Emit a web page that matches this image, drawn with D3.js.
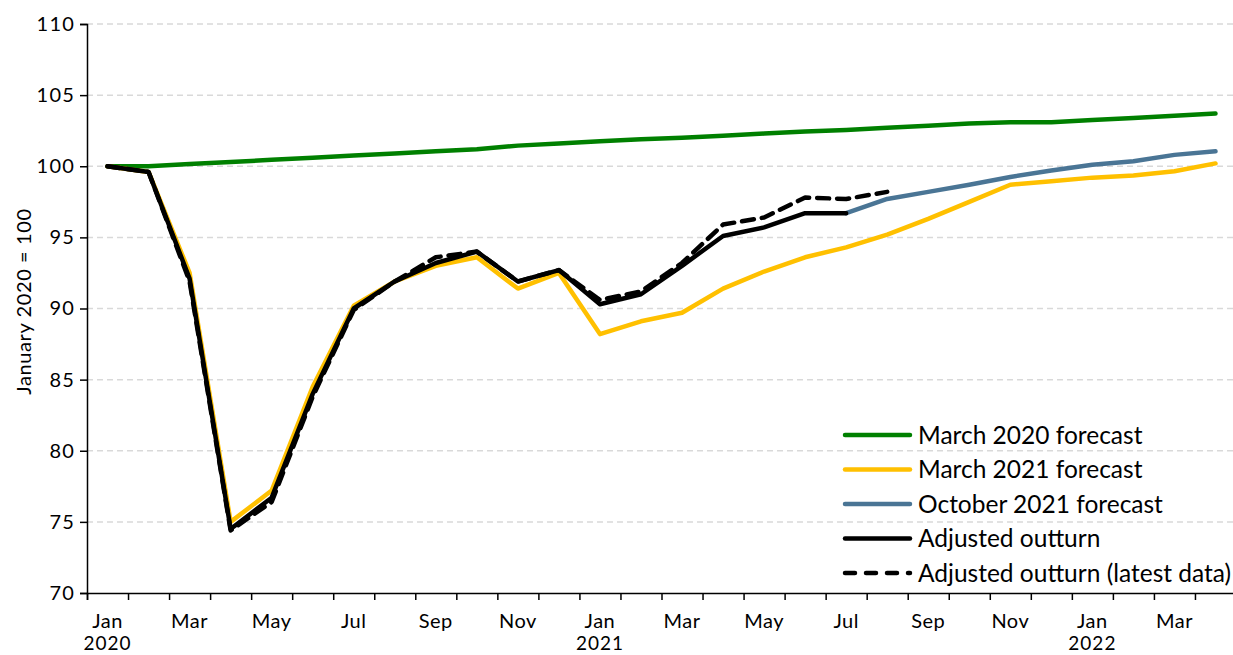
<!DOCTYPE html>
<html>
<head>
<meta charset="utf-8">
<script src="https://cdn.jsdelivr.net/npm/d3@7"></script>
<style>
  body { margin: 0; background: #fff; }
  text { font-family: "Lato", "DejaVu Sans", sans-serif; fill: #000; }
</style>
</head>
<body>
<svg id="chart" width="1233" height="655"></svg>
<script>
// months Jan 2020 .. Apr 2022
const months = ["Jan", "Feb", "Mar", "Apr", "May", "Jun", "Jul", "Aug", "Sep", "Oct", "Nov", "Dec",
                "Jan", "Feb", "Mar", "Apr", "May", "Jun", "Jul", "Aug", "Sep", "Oct", "Nov", "Dec",
                "Jan", "Feb", "Mar", "Apr"];
const years = { 0: "2020", 12: "2021", 24: "2022" };

const march2020 = [100, 100, 100.15, 100.3, 100.45, 100.6, 100.75, 100.9, 101.05, 101.2, 101.45, 101.6,
                   101.75, 101.9, 102.0, 102.15, 102.3, 102.45, 102.55, 102.7, 102.85, 103.0, 103.1, 103.1,
                   103.25, 103.4, 103.55, 103.7];
const march2021 = [100, 99.6, 92.5, 75.0, 77.2, 84.5, 90.2, 91.9, 93.0, 93.6, 91.4, 92.5,
                   88.2, 89.1, 89.7, 91.4, 92.6, 93.6, 94.3, 95.2, 96.3, 97.5, 98.7, 98.95,
                   99.2, 99.35, 99.65, 100.2];
const october2021 = [96.7, 97.7, 98.2, 98.7, 99.25, 99.7, 100.1, 100.35, 100.8, 101.05]; // Jul 2021 .. Apr 2022
const outturn = [100, 99.6, 92.1, 74.5, 76.7, 84.0, 90.0, 91.9, 93.2, 94.0, 91.9, 92.7,
                 90.3, 91.0, 93.0, 95.1, 95.7, 96.7, 96.7];
const outturnLatest = [100, 99.6, 91.9, 74.4, 76.4, 83.8, 89.9, 91.9, 93.6, 94.0, 91.9, 92.7,
                       90.6, 91.2, 93.2, 95.9, 96.4, 97.8, 97.7, 98.2];
const yTicks = [70, 75, 80, 85, 90, 95, 100, 105, 110];

const svg = d3.select("#chart");
const M = { left: 87, right: 1236, top: 24, bottom: 593 };

const x = d3.scaleLinear().domain([-0.5, months.length - 0.5]).range([M.left, M.right]);
const y = d3.scaleLinear().domain([70, 110]).range([M.bottom, M.top]);

// gridlines
svg.append("g")
  .selectAll("line")
  .data(yTicks.filter(v => v > 70))
  .join("line")
  .attr("x1", M.left).attr("x2", 1233)
  .attr("y1", d => y(d)).attr("y2", d => y(d))
  .attr("stroke", "#d9d9d9").attr("stroke-width", 1.5)
  .attr("stroke-dasharray", "6,4");

// y axis
const yAxis = svg.append("g")
  .attr("transform", `translate(${M.left},0)`)
  .call(d3.axisLeft(y).tickValues(yTicks).tickSize(7).tickPadding(5));
yAxis.select(".domain").attr("stroke", "#000").attr("stroke-width", 1.5);
yAxis.selectAll(".tick line").attr("stroke", "#000").attr("stroke-width", 1.5);
yAxis.selectAll(".tick text")
  .style("font-size", "20px").style("font-family", "Lato, sans-serif")
  .style("letter-spacing", "1.2px").attr("fill", "#000");

// x axis with ticks between months
const xAxis = svg.append("g")
  .attr("transform", `translate(0,${M.bottom})`)
  .call(d3.axisBottom(x).tickValues(d3.range(-0.5, months.length, 1)).tickSize(7).tickFormat(""));
xAxis.select(".domain").attr("stroke", "#000").attr("stroke-width", 1.5);
xAxis.selectAll(".tick line").attr("stroke", "#000").attr("stroke-width", 1.5);

const labG = svg.append("g");
months.forEach((m, i) => {
  if (i % 2 !== 0) return;
  labG.append("text").attr("x", x(i)).attr("y", 628)
    .attr("text-anchor", "middle").style("font-size", "20px").style("letter-spacing", "0.5px").text(m);
  if (years[i]) {
    labG.append("text").attr("x", x(i)).attr("y", 650)
      .attr("text-anchor", "middle").style("font-size", "19px").style("letter-spacing", "1px").text(years[i]);
  }
});

// y axis title
svg.append("text")
  .attr("transform", `translate(31,${(M.top + M.bottom) / 2 - 7}) rotate(-90)`)
  .attr("text-anchor", "middle")
  .style("font-size", "20px")
  .style("letter-spacing", "0.6px")
  .text("January 2020 = 100");

// lines
const line = d3.line().x(d => x(d[0])).y(d => y(d[1]));
const series = [
  { name: "March 2020 forecast", color: "#008000", values: march2020.map((v, i) => [i, v]) },
  { name: "March 2021 forecast", color: "#ffc000", values: march2021.map((v, i) => [i, v]) },
  { name: "October 2021 forecast", color: "#4a7595", values: october2021.map((v, i) => [i + 18, v]) },
  { name: "Adjusted outturn", color: "#000", values: outturn.map((v, i) => [i, v]) },
  { name: "Adjusted outturn (latest data)", color: "#000", dash: "12,8", values: outturnLatest.map((v, i) => [i, v]) }
];

svg.append("g")
  .selectAll("path")
  .data(series)
  .join("path")
  .attr("fill", "none")
  .attr("stroke", d => d.color)
  .attr("stroke-width", 4.5)
  .attr("stroke-linejoin", "round")
  .attr("stroke-linecap", "round")
  .attr("stroke-dasharray", d => d.dash || null)
  .attr("d", d => line(d.values));

// legend
const leg = svg.append("g").attr("transform", "translate(843,435)");
const rows = leg.selectAll("g").data(series).join("g")
  .attr("transform", (d, i) => `translate(0,${i * 34.5})`);
rows.append("line")
  .attr("x1", 2).attr("x2", 67).attr("y1", 0).attr("y2", 0)
  .attr("stroke", d => d.color).attr("stroke-width", 4.5)
  .attr("stroke-linecap", "round")
  .attr("stroke-dasharray", d => d.dash ? "10,11" : null);
rows.append("text")
  .attr("x", 75).attr("y", 0).attr("dy", "0.35em")
  .style("font-size", "24.5px")
  .text(d => d.name);
</script>
</body>
</html>
